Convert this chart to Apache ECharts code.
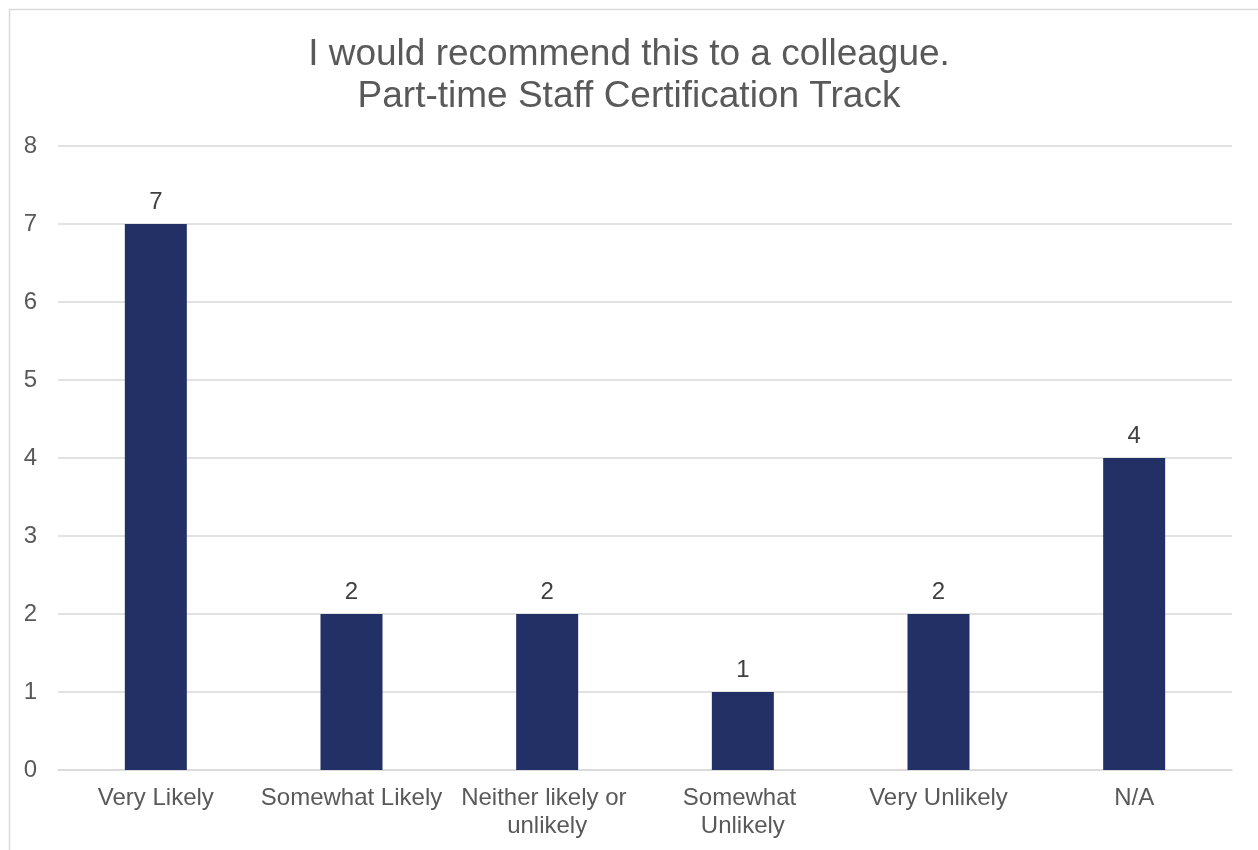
<!DOCTYPE html>
<html>
<head>
<meta charset="utf-8">
<script src="https://cdn.jsdelivr.net/npm/echarts@6/dist/echarts.min.js"></script>
<style>
html,body{margin:0;padding:0;background:#fff;}
#chart{width:1258px;height:850px;}
</style>
</head>
<body>
<div id="chart"></div>
<script>
const titleText = "I would recommend this to a colleague.\nPart-time Staff Certification Track";
const categories = ["Very Likely", "Somewhat Likely", "Neither likely or unlikely", "Somewhat Unlikely", "Very Unlikely", "N/A"];
const values = [7, 2, 2, 1, 2, 4];
const yTicks = [0, 1, 2, 3, 4, 5, 6, 7, 8];

const chart = echarts.init(document.getElementById('chart'), null, {renderer: 'canvas'});
const font = 'Liberation Sans, Arial, sans-serif';
chart.setOption({
  animation: false,
  backgroundColor: '#ffffff',
  graphic: [{
    type: 'rect', left: 7, top: 7, silent: true,
    shape: {width: 1300, height: 900},
    style: {fill: 'none', stroke: '#d9d9d9', lineWidth: 1.5}
  }],
  title: {
    text: titleText,
    left: 'center', top: 29,
    textStyle: {fontFamily: font, fontSize: 37, fontWeight: 'normal', color: '#595959', lineHeight: 42, align: 'center'}
  },
  grid: {left: 58, right: 26, top: 146, bottom: 80, containLabel: false},
  xAxis: {
    type: 'category',
    data: categories,
    axisLine: {show: true, lineStyle: {color: '#d9d9d9', width: 1.5}},
    axisTick: {show: false},
    axisLabel: {
      fontFamily: font, fontSize: 24, color: '#595959', margin: 14, lineHeight: 28,
      interval: 0, width: 192, overflow: 'break'
    }
  },
  yAxis: {
    type: 'value',
    min: yTicks[0], max: yTicks[yTicks.length - 1], interval: 1,
    axisLine: {show: false},
    axisTick: {show: false},
    splitLine: {lineStyle: {color: '#d9d9d9', width: 1.5}},
    axisLabel: {fontFamily: font, fontSize: 24, color: '#595959', margin: 21}
  },
  series: [{
    type: 'bar',
    data: values,
    barWidth: 62,
    itemStyle: {color: '#223066'},
    label: {show: true, position: 'top', distance: 10, fontFamily: font, fontSize: 24, color: '#404040'}
  }]
});
</script>
</body>
</html>
